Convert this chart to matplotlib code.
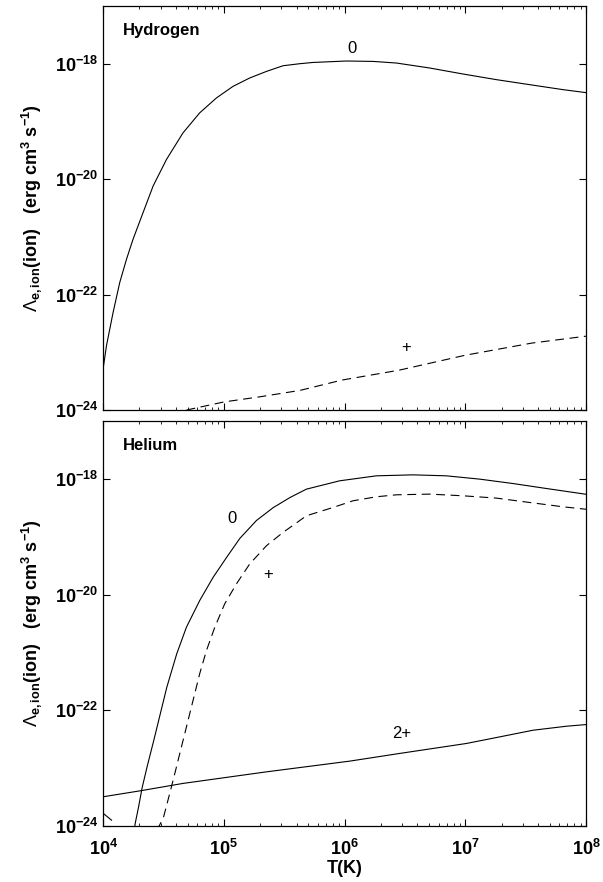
import numpy as np
import matplotlib
matplotlib.use("Agg")
import matplotlib.pyplot as plt
from matplotlib.ticker import LogLocator, NullLocator, FuncFormatter

plt.rcParams['font.family'] = ['Liberation Sans', 'DejaVu Sans']
plt.rcParams['mathtext.fontset'] = 'custom'
plt.rcParams['mathtext.rm'] = 'Liberation Sans'
plt.rcParams['mathtext.bf'] = 'Liberation Sans:bold'
plt.rcParams['mathtext.it'] = 'Liberation Sans:italic'
plt.rcParams['mathtext.default'] = 'bf'

# ---- data (log10 T, log10 Lambda) ----
# Hydrogen, neutral (solid)
h0_logT = [4.0, 4.028, 4.083, 4.138, 4.194, 4.248, 4.331, 4.414, 4.525, 4.662,
           4.800, 4.939, 5.076, 5.214, 5.353, 5.490, 5.628, 5.738, 6.015, 6.235,
           6.429, 6.704, 6.980, 7.257, 7.533, 7.808, 8.0]
h0_logL = [-23.285, -22.883, -22.306, -21.788, -21.385, -21.040, -20.579, -20.119,
           -19.658, -19.197, -18.851, -18.592, -18.392, -18.247, -18.133, -18.035,
           -18.0, -17.978, -17.953, -17.960, -17.988, -18.074, -18.178, -18.276,
           -18.363, -18.449, -18.501]

# Hydrogen, + (dashed)
h1_logT = [4.69, 5.0, 5.3, 5.63, 5.98, 6.45, 7.0, 7.55, 8.0]
h1_logL = [-24.0, -23.86, -23.77, -23.66, -23.48, -23.31, -23.05, -22.84, -22.72]

# Helium, neutral (solid)
he0_logT = [4.255, 4.266, 4.294, 4.322, 4.364, 4.420, 4.474, 4.528, 4.610, 4.690,
            4.800, 4.911, 5.022, 5.132, 5.270, 5.407, 5.550, 5.684, 5.959, 6.263,
            6.566, 6.843, 7.118, 7.394, 7.671, 8.0]
he0_logL = [-24.1, -23.953, -23.667, -23.350, -22.978, -22.517, -22.057, -21.598,
            -21.022, -20.564, -20.103, -19.702, -19.36, -19.03, -18.72, -18.50,
            -18.32, -18.178, -18.034, -17.948, -17.931, -17.948, -18.005, -18.081,
            -18.167, -18.267]

# Helium, + (dashed)
he1_logT = [4.445, 4.469, 4.500, 4.552, 4.594, 4.635, 4.690, 4.745, 4.800, 4.856,
            4.925, 5.007, 5.104, 5.214, 5.353, 5.490, 5.684, 5.904, 6.070, 6.263,
            6.429, 6.704, 6.980, 7.257, 7.533, 7.808, 8.0]
he1_logL = [-24.07, -23.98, -23.85, -23.436, -23.091, -22.747, -22.288, -21.828,
            -21.367, -20.966, -20.564, -20.160, -19.816, -19.471, -19.155, -18.926,
            -18.638, -18.495, -18.379, -18.31, -18.276, -18.264, -18.293, -18.333,
            -18.409, -18.483, -18.526]

# Helium, 2+ (solid)
he2_logT = [4.0, 4.310, 4.662, 5.353, 6.042, 6.456, 7.008, 7.284, 7.560, 7.836, 8.0]
he2_logL = [-23.495, -23.391, -23.264, -23.064, -22.879, -22.746, -22.574, -22.460,
            -22.345, -22.276, -22.247]

# short descending piece at lower left of helium panel
he_tail_logT = [4.0, 4.07]
he_tail_logL = [-23.78, -23.90]

panels = [
    ("Hydrogen",
     [(h0_logT, h0_logL, '-'), (h1_logT, h1_logL, 'dash')],
     [("0", 6.06, -17.73), ("+", 6.51, -22.91)]),
    ("Helium",
     [(he0_logT, he0_logL, '-'), (he1_logT, he1_logL, 'dash'),
      (he2_logT, he2_logL, '-'), (he_tail_logT, he_tail_logL, '-')],
     [("0", 5.07, -18.69), ("+", 5.366, -19.66), ("2+", 6.47, -22.41)]),
]

fig = plt.figure(figsize=(6.03, 8.82), dpi=100)
ax_top = fig.add_axes([0.171, 0.5351, 0.801, 0.4581])
ax_bot = fig.add_axes([0.171, 0.0635, 0.801, 0.4592])

ylab = r"$\mathrm{\Lambda}_{e,ion}$(ion)   (erg cm$^{3}$ s$^{-1}$)"


def fmt(v, pos):
    e = int(round(np.log10(v)))
    return r"$10^{%d}$" % e


for ax, (name, curves, labels) in zip([ax_top, ax_bot], panels):
    for lt, ll, style in curves:
        T = 10.0 ** np.array(lt)
        L = 10.0 ** np.array(ll)
        if style == 'dash':
            ax.plot(T, L, color='black', lw=0.8, linestyle=(0, (8, 5)))
        else:
            ax.plot(T, L, color='black', lw=0.8)
    for txt, lx, ly in labels:
        ax.text(10 ** lx, 10 ** ly, txt, ha='center', va='center', fontsize=12)
    ax.set_xscale('log')
    ax.set_yscale('log')
    ax.set_xlim(1e4, 1e8)
    ax.set_ylim(1e-24, 1e-17)
    ax.set_yticks([1e-24, 1e-22, 1e-20, 1e-18])
    ax.yaxis.set_minor_locator(NullLocator())
    ax.yaxis.set_major_formatter(FuncFormatter(fmt))
    ax.xaxis.set_major_locator(LogLocator(base=10, numticks=10))
    ax.xaxis.set_minor_locator(LogLocator(base=10, subs=np.arange(2, 10), numticks=20))
    ax.tick_params(which='both', direction='in', top=True, right=True, labelsize=13)
    ax.tick_params(which='major', length=5, width=0.8)
    ax.tick_params(which='minor', length=2.5, width=0.6)
    for sp in ax.spines.values():
        sp.set_linewidth(0.9)
    ax.text(0.041, 0.94, name, transform=ax.transAxes, fontsize=12,
            fontweight='bold', ha='left', va='center')
    ax.set_ylabel(ylab, fontsize=13, fontweight='bold', labelpad=8)

ax_top.tick_params(labelbottom=False)
ax_bot.tick_params(axis='x', which='major', pad=9)
ax_bot.xaxis.set_major_formatter(FuncFormatter(fmt))
ax_bot.set_xlabel("T(K)", fontsize=13, fontweight='bold', labelpad=1)

fig.savefig("out.png", dpi=100)
